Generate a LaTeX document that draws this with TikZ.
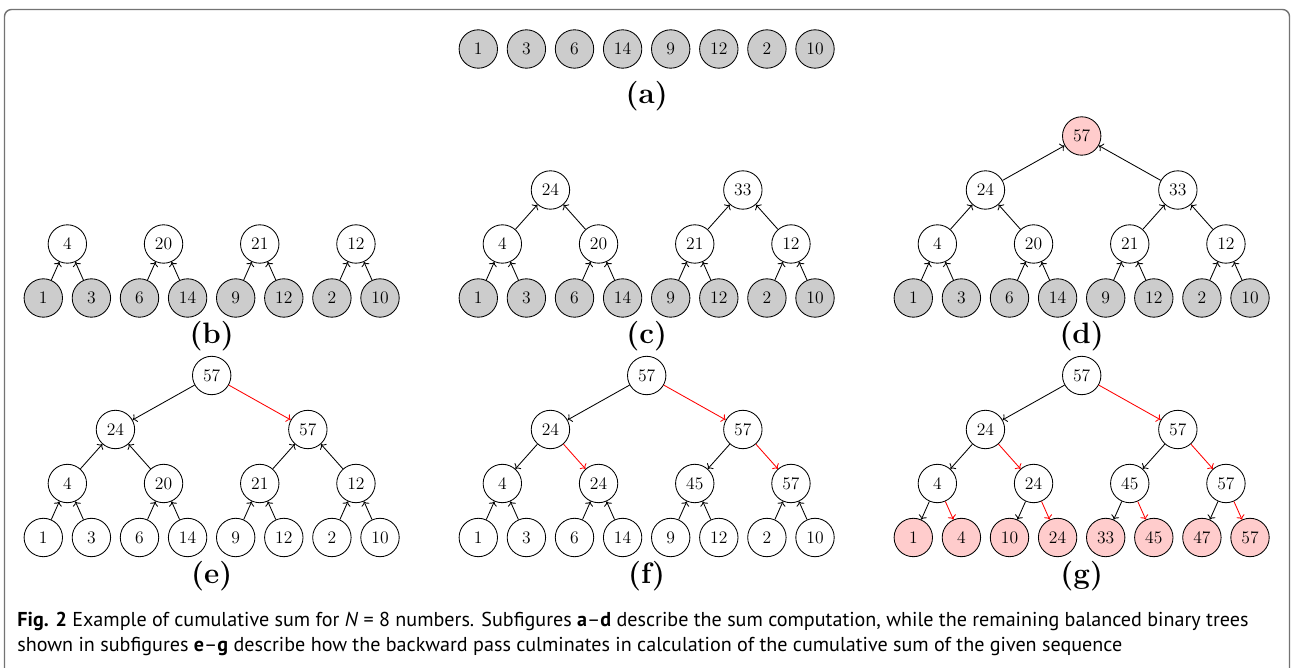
\documentclass[tikz,border=0pt]{standalone}
\usepackage{fontspec}
\usepackage{tikz}
\usetikzlibrary{arrows.meta}
\newfontfamily\capfont[Ligatures=TeX]{PT Sans}

\begin{document}
\begin{tikzpicture}[x=0.025cm, y=-0.025cm, line width=0.6pt, >={To},
    num/.style={circle, draw, minimum size=0.96cm, inner sep=0pt,
                font=\fontsize{12.5}{14}\selectfont},
    given/.style={num, fill=black!20},
    done/.style={num, fill=red!20},
    tag/.style={font=\fontsize{21}{25}\selectfont\bfseries},
    caption/.style={anchor=base west, inner sep=0pt,
                    font=\capfont\fontsize{14.3}{17}\selectfont},
    frame/.style={draw=black!55, line width=1pt, rounded corners=5pt}]
  \useasboundingbox (0,0) rectangle (1291,668);
  \draw[frame] (4.5,668) -- (4.5,9.5) -- (1289.5,9.5) -- (1289.5,668);

  % the input sequence
  \foreach \v [count=\i] in {1,3,6,14,9,12,2,10}
    \node[given] (a\i) at ({478.3+48.1*(\i-1)}, 49) {\v};
  \node[tag] (taga) at (646.7,96) {(a)};

  % leaves
  \foreach \t/\xo/\yo/\s/\vals in {
      b/43.3/298/given/{1,3,6,14,9,12,2,10},
      c/478.3/298/given/{1,3,6,14,9,12,2,10},
      d/913.3/298/given/{1,3,6,14,9,12,2,10},
      e/43.3/537.5/num/{1,3,6,14,9,12,2,10},
      f/478.3/537.5/num/{1,3,6,14,9,12,2,10},
      g/913.3/537.5/done/{1,4,10,24,33,45,47,57}}
    \foreach \v [count=\i from 0] in \vals
      \node[\s] (\t-l\i) at ({\xo+48.1*\i}, \yo) {\v};

  % first level of sums
  \foreach \t/\xo/\yo/\vals in {
      b/43.3/244/{4,20,21,12}, c/478.3/244/{4,20,21,12},
      d/913.3/244/{4,20,21,12}, e/43.3/483.5/{4,20,21,12},
      f/478.3/483.5/{4,24,45,57}, g/913.3/483.5/{4,24,45,57}}
    \foreach \v [count=\i from 0] in \vals
      \node[num] (\t-m\i) at ({\xo+48.1*(2*\i+0.5)}, \yo) {\v};

  % second level
  \foreach \t/\xo/\yo/\vals in {
      c/478.3/190/{24,33}, d/913.3/190/{24,33}, e/43.3/429.5/{24,57},
      f/478.3/429.5/{24,57}, g/913.3/429.5/{24,57}}
    \foreach \v [count=\i from 0] in \vals
      \node[num] (\t-h\i) at ({\xo+48.1*(4*\i+1.5)}, \yo) {\v};

  % roots
  \node[done] (d-r) at (1081.7,136) {57};
  \foreach \t/\x in {e/211.7, f/646.7, g/1081.7}
    \node[num] (\t-r) at (\x,375.5) {57};

  % sub-figure tags
  \foreach \t/\x/\y in {b/211.7/336, c/646.7/336, d/1081.7/336,
                        e/211.7/576, f/646.7/576, g/1081.7/576}
    \node[tag] (tag\t) at (\x,\y) {(\t)};

  % sums going up
  \foreach \t in {b,c,d,e,f}
    \foreach \i/\p in {0/0,1/0,2/1,3/1,4/2,5/2,6/3,7/3}
      \draw[->] (\t-l\i) -- (\t-m\p);
  \foreach \t in {c,d,e}
    \foreach \i/\p in {0/0,1/0,2/1,3/1}
      \draw[->] (\t-m\i) -- (\t-h\p);
  \draw[->] (d-h0) -- (d-r);
  \draw[->] (d-h1) -- (d-r);

  % backward pass, right branch in red
  \foreach \t in {e,f,g} {
    \draw[->] (\t-r) -- (\t-h0);
    \draw[->, red] (\t-r) -- (\t-h1);
  }
  \foreach \t in {f,g}
    \foreach \p/\i/\c in {0/0/black,0/1/red,1/2/black,1/3/red}
      \draw[->, \c] (\t-h\p) -- (\t-m\i);
  \foreach \p/\i/\c in {0/0/black,0/1/red,1/2/black,1/3/red,
                        2/4/black,2/5/red,3/6/black,3/7/red}
    \draw[->, \c] (g-m\p) -- (g-l\i);

  % caption
  \node[caption] (cap1) at (17,626) {\textbf{Fig. 2} Example of cumulative sum for \textit{N} = 8 numbers. Subfigures \textbf{a}–\textbf{d} describe the sum computation, while the remaining balanced binary trees};
  \node[caption] (cap2) at (17,652) {shown in subfigures \textbf{e}–\textbf{g} describe how the backward pass culminates in calculation of the cumulative sum of the given sequence};
\end{tikzpicture}
\end{document}
